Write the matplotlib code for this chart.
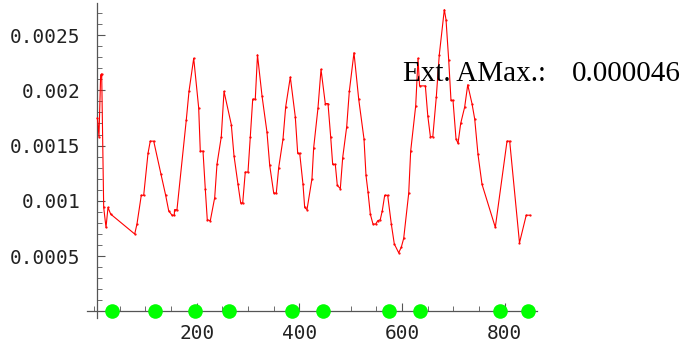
import numpy as np
import matplotlib
matplotlib.use("Agg")
import matplotlib.pyplot as plt
from matplotlib.ticker import MultipleLocator

# ── data ──────────────────────────────────────────────────
x_vals = [6.8, 9.7, 13.0, 15.0, 18.9, 23.4, 27.3, 32.5, 79.3, 83.7,
          92.1, 96.8, 105.2, 109.6, 116.3, 130.5, 139.6, 145.5, 151.9, 156.4,
          156.8, 161.6, 179.7, 185.0, 194.2, 203.9, 207.0, 212.3, 216.7, 220.6,
          226.5, 235.1, 239.5, 247.9, 253.2, 267.4, 272.6, 280.4, 285.7, 289.6,
          294.6, 299.9, 304.4, 309.1, 314.1, 318.4, 327.2, 336.9, 342.2, 350.0,
          355.0, 359.7, 368.1, 373.3, 382.3, 392.0, 396.7, 400.6, 407.0, 410.3,
          414.8, 424.5, 427.8, 436.2, 442.1, 450.4, 455.7, 460.9, 464.8, 469.9,
          473.8, 479.7, 484.3, 492.1, 497.2, 506.3, 515.5, 525.8, 529.7, 533.6,
          538.1, 543.3, 548.6, 552.5, 557.5, 561.4, 566.1, 571.9, 579.0, 584.8,
          593.4, 598.4, 603.1, 612.9, 616.7, 626.5, 631.0, 634.0, 645.3, 650.0,
          655.1, 659.8, 666.6, 672.4, 682.2, 685.5, 690.8, 695.2, 699.1, 705.0,
          708.9, 714.1, 721.9, 727.8, 736.1, 741.4, 747.8, 755.6, 781.5, 804.3,
          809.5, 828.6, 841.7, 848.5]
y_vals = [0.00175, 0.00158, 0.00214, 0.00215, 0.00094, 0.00076, 0.00094, 0.00088, 0.00070, 0.00079,
          0.00105, 0.00105, 0.00143, 0.00154, 0.00154, 0.00124, 0.00105, 0.00091, 0.00087, 0.00087,
          0.00092, 0.00092, 0.00173, 0.00199, 0.00229, 0.00184, 0.00145, 0.00145, 0.00111, 0.00083,
          0.00082, 0.00103, 0.00133, 0.00158, 0.00199, 0.00169, 0.00141, 0.00115, 0.00098, 0.00098,
          0.00126, 0.00126, 0.00158, 0.00192, 0.00192, 0.00232, 0.00195, 0.00162, 0.00132, 0.00107,
          0.00107, 0.00130, 0.00156, 0.00185, 0.00212, 0.00176, 0.00143, 0.00143, 0.00115, 0.00094,
          0.00092, 0.00120, 0.00148, 0.00184, 0.00219, 0.00188, 0.00188, 0.00158, 0.00133, 0.00133,
          0.00114, 0.00111, 0.00139, 0.00167, 0.00199, 0.00234, 0.00192, 0.00156, 0.00123, 0.00108,
          0.00088, 0.00079, 0.00079, 0.00082, 0.00083, 0.00091, 0.00105, 0.00105, 0.00079, 0.00061,
          0.00053, 0.00058, 0.00066, 0.00107, 0.00145, 0.00186, 0.00229, 0.00204, 0.00204, 0.00177,
          0.00158, 0.00158, 0.00194, 0.00232, 0.00273, 0.00264, 0.00227, 0.00191, 0.00191, 0.00156,
          0.00152, 0.00170, 0.00185, 0.00205, 0.00188, 0.00174, 0.00142, 0.00115, 0.00076, 0.00154,
          0.00154, 0.00062, 0.00087, 0.00087]
dot_x = [36, 119, 197, 262, 386, 445, 574, 635, 791, 846]
dot_y = [0] * len(dot_x)
x_ticks = [200, 400, 600, 800]
y_ticks = [0.0005, 0.001, 0.0015, 0.002, 0.0025]
y_tick_labels = ["0.0005", "0.001", "0.0015", "0.002", "0.0025"]
note_label = "Ext. AMax.:"
note_value = "0.000046"

# ── figure ────────────────────────────────────────────────
fig = plt.figure(figsize=(6.84, 3.46), dpi=100)
ax = fig.add_axes([87 / 684, 28 / 346, 450 / 684, 315 / 346])

ax.plot(x_vals, y_vals, color="red", linewidth=0.8, marker="o",
        markersize=0.6, zorder=3)
ax.plot(dot_x, dot_y, "o", color="#00ff00", markersize=10.5,
        markeredgewidth=0, clip_on=False, zorder=5)

ax.set_xlim(-13.6, 862.7)
ax.set_ylim(-0.00006, 0.00279)

ax.spines[["top", "right"]].set_visible(False)
ax.spines["left"].set_position(("data", 6))
ax.spines["bottom"].set_position(("data", 0))
for s in ("left", "bottom"):
    ax.spines[s].set_color("#555555")
    ax.spines[s].set_linewidth(0.9)

ax.set_xticks(x_ticks)
ax.xaxis.set_minor_locator(MultipleLocator(50))
ax.set_yticks(y_ticks)
ax.set_yticklabels(y_tick_labels)
ax.yaxis.set_minor_locator(MultipleLocator(0.0001))
ax.tick_params(direction="in", length=6, width=0.8, color="#555555",
               labelsize=14, labelcolor="#222222")
ax.tick_params(which="minor", direction="in", length=3.5, width=0.6,
               color="#555555")
ax.tick_params(axis="y", pad=12)
ax.tick_params(axis="x", pad=9)
for lbl in ax.get_xticklabels() + ax.get_yticklabels():
    lbl.set_family("DejaVu Sans Mono")

fig.text(403 / 684, 1 - 81 / 346, note_label, family="Liberation Serif",
         fontsize=21, color="black", ha="left", va="baseline")
fig.text(572 / 684, 1 - 81 / 346, note_value, family="Liberation Serif",
         fontsize=21, color="black", ha="left", va="baseline")

fig.savefig("out.png", dpi=100)
plt.close(fig)
